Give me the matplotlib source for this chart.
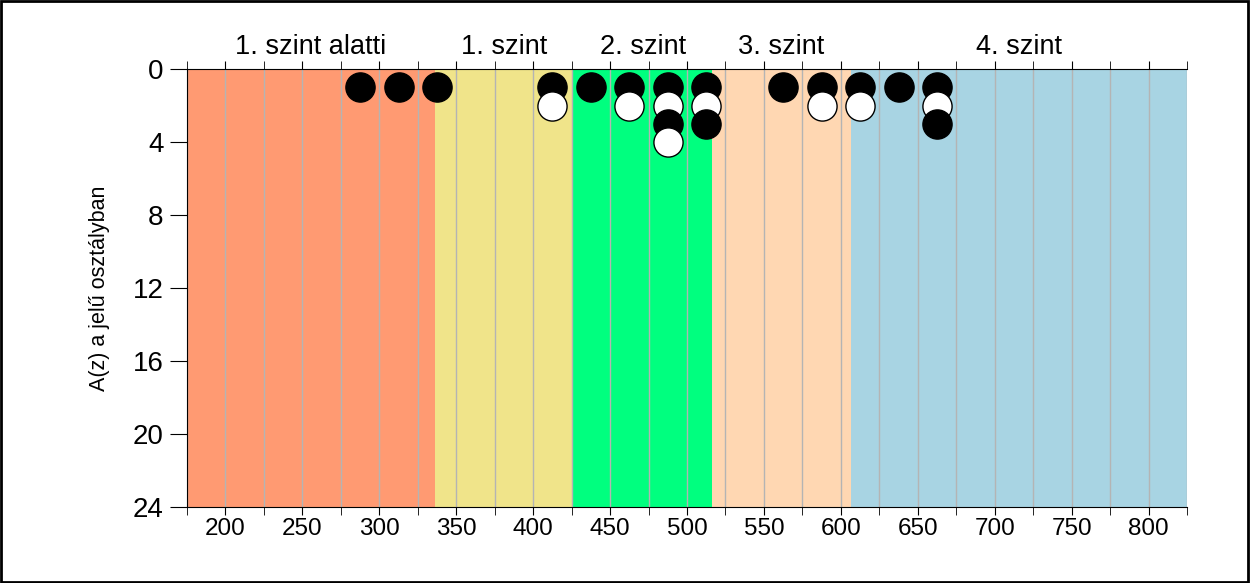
import numpy as np
import matplotlib.pyplot as plt
from matplotlib.patches import Rectangle

plt.rcParams['font.family'] = ['Liberation Sans', 'DejaVu Sans']

# levels (score bands)
level_names = ["1. szint alatti", "1. szint", "2. szint", "3. szint", "4. szint"]
level_edges = [175, 336, 426, 516.5, 606.5, 825]
level_colors = ["#FF9A72", "#F0E48A", "#00FF7F", "#FFD7B2", "#A8D4E3"]

# students: score bin centre and how many in that bin
bins = [287.5, 312.5, 337.5, 412.5, 437.5, 462.5, 487.5, 512.5,
        562.5, 587.5, 612.5, 637.5, 662.5]
counts = [1, 1, 1, 2, 1, 2, 4, 3, 1, 2, 2, 1, 3]

fig = plt.figure(figsize=(12.5, 5.83), dpi=100)
ax = fig.add_axes([0.1496, 0.1304, 0.8, 0.7512])

for i in range(len(level_names)):
    ax.axvspan(level_edges[i], level_edges[i + 1], color=level_colors[i], lw=0, zorder=0)
    ax.text((level_edges[i] + level_edges[i + 1]) / 2, -0.5, level_names[i],
            ha='center', va='bottom', fontsize=19.5)

ax.set_xlim(175, 825)
ax.set_ylim(24, 0)
ax.set_xticks(np.arange(200, 801, 50))
ax.set_xticks(np.arange(175, 826, 25), minor=True)
ax.set_yticks(np.arange(0, 25, 4))
ax.grid(axis='x', which='both', color='#b4b4b4', lw=1, zorder=1)
ax.set_axisbelow(True)

for x, n in zip(bins, counts):
    for k in range(n):
        fc = 'black' if k % 2 == 0 else 'white'
        ax.plot(x, k + 1, 'o', ms=21, mfc=fc, mec='black', mew=1, zorder=3 + k)

ax.spines['right'].set_visible(False)
ax.tick_params(axis='x', which='both', top=True, direction='out', length=6,
               labelsize=17.5, pad=2)
ax.tick_params(axis='y', length=12, labelsize=20, pad=5)
ax.set_ylabel("A(z) a jelű osztályban", fontsize=15.5, labelpad=16)

fig.patches.append(Rectangle((0.001, 0.002), 0.997, 0.996, transform=fig.transFigure,
                             fill=False, ec='black', lw=2))

fig.savefig("out.png", dpi=100)
